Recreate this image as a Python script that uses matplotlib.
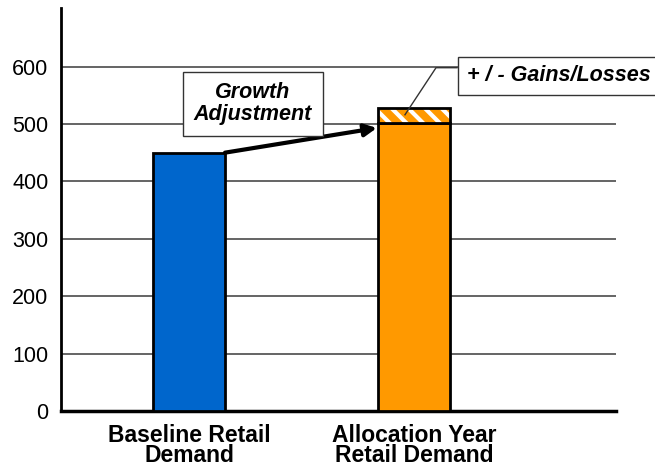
import matplotlib
matplotlib.use("Agg")
import matplotlib.pyplot as plt

categories = ["Baseline Retail\nDemand", "Allocation Year\nRetail Demand"]
base_values = [450, 501]
gains_losses = [0, 27]
yticks = [0, 100, 200, 300, 400, 500, 600]

plt.rcParams['font.family'] = ['Liberation Sans', 'DejaVu Sans']
plt.rcParams['hatch.linewidth'] = 3.0

fig = plt.figure(figsize=(6.55, 4.69), dpi=100)
ax = fig.add_axes([61/655, 1-411/469, (616-61)/655, (411-8)/469])

x = [0, 1]
w = 0.32
ax.set_xlim(-0.569, 1.898)
ax.set_ylim(0, 702)

for y in yticks[1:]:
    ax.axhline(y, color='#3a3a3a', lw=1.1, zorder=1)

ax.bar(x[0], base_values[0], width=w, color='#0066CC', edgecolor='black', lw=2, zorder=3)
ax.bar(x[1], base_values[1], width=w, color='#FF9900', edgecolor='black', lw=2, zorder=3)
ax.bar(x[1], gains_losses[1], bottom=base_values[1], width=w, color='#FF9900',
       edgecolor='white', hatch='\\\\', lw=0, zorder=3)
ax.bar(x[1], gains_losses[1], bottom=base_values[1], width=w, fill=False,
       edgecolor='black', lw=2, zorder=4)

ax.set_yticks(yticks)
ax.set_yticklabels([str(v) for v in yticks], fontsize=15.5)
ax.tick_params(axis='y', length=0, pad=9)
ax.set_xticks(x)
ax.set_xticklabels(categories, fontsize=16.5, fontweight='bold', linespacing=0.85)
ax.tick_params(axis='x', length=0, pad=9)

for s in ['top', 'right']:
    ax.spines[s].set_visible(False)
ax.spines['left'].set_linewidth(2)
ax.spines['bottom'].set_linewidth(2.5)

# Growth adjustment arrow
ax.annotate('', xy=(0.835, 493), xytext=(0.16, 450),
            arrowprops=dict(arrowstyle='-|>', color='black', lw=3,
                            mutation_scale=18, shrinkA=0, shrinkB=0), zorder=5)
ax.text(0.284, 535, "Growth\nAdjustment", ha='center', va='center', fontsize=15.5,
        fontweight='bold', style='italic', linespacing=1.05, zorder=6,
        bbox=dict(boxstyle='square,pad=0.5', fc='white', ec='#333333', lw=1))

# Gains/Losses callout
ax.plot([0.96, 1.098, 1.191], [516, 598, 598], color='#333333', lw=1, zorder=6,
        clip_on=False)
ax.text(1.236, 584, "+ / - Gains/Losses", ha='left', va='center', fontsize=15.5,
        fontweight='bold', style='italic', zorder=7, clip_on=False,
        bbox=dict(boxstyle='square,pad=0.4', fc='white', ec='#333333', lw=1))

fig.savefig("out.png", dpi=100)
